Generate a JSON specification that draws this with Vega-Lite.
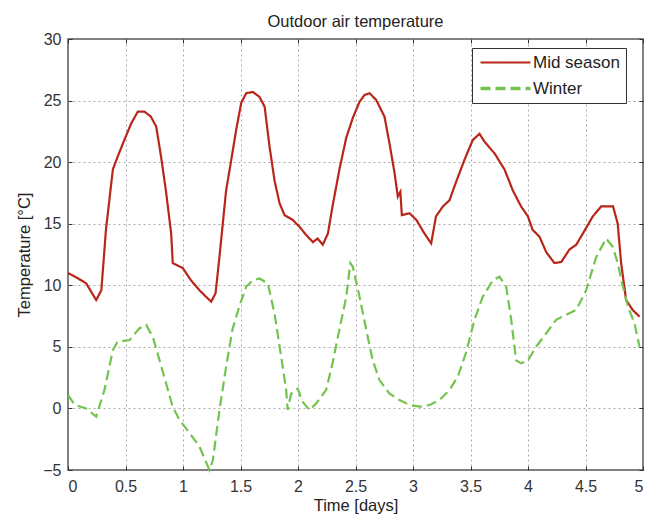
{
"$schema": "https://vega.github.io/schema/vega-lite/v6.json",
"width": 575, "height": 431,
"autosize": "none",
"padding": {"left": 68, "top": 39, "right": 15, "bottom": 47},
"background": "white",
"title": {"text": "Outdoor air temperature", "fontSize": 16.5, "font": "Liberation Sans", "fontWeight": "normal", "color": "#222", "offset": 1},
"config": {
  "view": {"stroke": "#555", "strokeWidth": 1.5},
  "axis": {"labelFont": "Liberation Sans", "titleFont": "Liberation Sans", "labelFontSize": 16, "titleFontSize": 16.5, "titleFontWeight": "normal", "labelColor": "#333", "titleColor": "#222", "domain": false, "tickColor": "#333", "tickSize": -4, "tickWidth": 1, "gridColor": "#888", "gridDash": [2, 3], "gridOpacity": 0.7, "gridWidth": 1},
  "legend": {"labelFont": "Liberation Sans", "labelFontSize": 17, "labelColor": "#222"}
},
"data": {"values": [
{"t":0,"T":11.0,"s":"Mid season"},{"t":0.08,"T":10.6,"s":"Mid season"},{"t":0.158,"T":10.16,"s":"Mid season"},{"t":0.2,"T":9.5,"s":"Mid season"},{"t":0.245,"T":8.8,"s":"Mid season"},{"t":0.29,"T":9.6,"s":"Mid season"},{"t":0.33,"T":14.5,"s":"Mid season"},{"t":0.39,"T":19.4,"s":"Mid season"},{"t":0.43,"T":20.4,"s":"Mid season"},{"t":0.49,"T":21.8,"s":"Mid season"},{"t":0.55,"T":23.15,"s":"Mid season"},{"t":0.607,"T":24.1,"s":"Mid season"},{"t":0.665,"T":24.1,"s":"Mid season"},{"t":0.72,"T":23.7,"s":"Mid season"},{"t":0.767,"T":22.9,"s":"Mid season"},{"t":0.81,"T":20.4,"s":"Mid season"},{"t":0.854,"T":17.5,"s":"Mid season"},{"t":0.897,"T":14.2,"s":"Mid season"},{"t":0.911,"T":11.8,"s":"Mid season"},{"t":0.998,"T":11.4,"s":"Mid season"},{"t":1.07,"T":10.4,"s":"Mid season"},{"t":1.143,"T":9.6,"s":"Mid season"},{"t":1.2,"T":9.07,"s":"Mid season"},{"t":1.245,"T":8.67,"s":"Mid season"},{"t":1.283,"T":9.35,"s":"Mid season"},{"t":1.317,"T":12.3,"s":"Mid season"},{"t":1.375,"T":17.7,"s":"Mid season"},{"t":1.42,"T":20.2,"s":"Mid season"},{"t":1.462,"T":22.6,"s":"Mid season"},{"t":1.506,"T":24.8,"s":"Mid season"},{"t":1.55,"T":25.6,"s":"Mid season"},{"t":1.607,"T":25.7,"s":"Mid season"},{"t":1.665,"T":25.3,"s":"Mid season"},{"t":1.71,"T":24.5,"s":"Mid season"},{"t":1.752,"T":21.3,"s":"Mid season"},{"t":1.796,"T":18.5,"s":"Mid season"},{"t":1.84,"T":16.65,"s":"Mid season"},{"t":1.883,"T":15.7,"s":"Mid season"},{"t":1.955,"T":15.3,"s":"Mid season"},{"t":2.013,"T":14.75,"s":"Mid season"},{"t":2.07,"T":14.1,"s":"Mid season"},{"t":2.13,"T":13.5,"s":"Mid season"},{"t":2.17,"T":13.8,"s":"Mid season"},{"t":2.216,"T":13.3,"s":"Mid season"},{"t":2.26,"T":14.2,"s":"Mid season"},{"t":2.3,"T":16.4,"s":"Mid season"},{"t":2.36,"T":19.4,"s":"Mid season"},{"t":2.42,"T":22.0,"s":"Mid season"},{"t":2.477,"T":23.6,"s":"Mid season"},{"t":2.535,"T":24.9,"s":"Mid season"},{"t":2.578,"T":25.45,"s":"Mid season"},{"t":2.622,"T":25.6,"s":"Mid season"},{"t":2.68,"T":25.05,"s":"Mid season"},{"t":2.752,"T":23.7,"s":"Mid season"},{"t":2.796,"T":21.5,"s":"Mid season"},{"t":2.84,"T":19.1,"s":"Mid season"},{"t":2.868,"T":17.2,"s":"Mid season"},{"t":2.89,"T":17.6,"s":"Mid season"},{"t":2.903,"T":15.7,"s":"Mid season"},{"t":2.97,"T":15.85,"s":"Mid season"},{"t":3.03,"T":15.3,"s":"Mid season"},{"t":3.1,"T":14.2,"s":"Mid season"},{"t":3.158,"T":13.4,"s":"Mid season"},{"t":3.2,"T":15.6,"s":"Mid season"},{"t":3.26,"T":16.4,"s":"Mid season"},{"t":3.317,"T":16.9,"s":"Mid season"},{"t":3.375,"T":18.4,"s":"Mid season"},{"t":3.448,"T":20.2,"s":"Mid season"},{"t":3.52,"T":21.8,"s":"Mid season"},{"t":3.578,"T":22.3,"s":"Mid season"},{"t":3.622,"T":21.66,"s":"Mid season"},{"t":3.71,"T":20.7,"s":"Mid season"},{"t":3.796,"T":19.4,"s":"Mid season"},{"t":3.868,"T":17.7,"s":"Mid season"},{"t":3.94,"T":16.4,"s":"Mid season"},{"t":3.999,"T":15.6,"s":"Mid season"},{"t":4.04,"T":14.5,"s":"Mid season"},{"t":4.1,"T":13.95,"s":"Mid season"},{"t":4.158,"T":12.7,"s":"Mid season"},{"t":4.23,"T":11.8,"s":"Mid season"},{"t":4.29,"T":11.9,"s":"Mid season"},{"t":4.36,"T":12.9,"s":"Mid season"},{"t":4.42,"T":13.3,"s":"Mid season"},{"t":4.477,"T":14.2,"s":"Mid season"},{"t":4.564,"T":15.6,"s":"Mid season"},{"t":4.636,"T":16.4,"s":"Mid season"},{"t":4.74,"T":16.4,"s":"Mid season"},{"t":4.78,"T":15.0,"s":"Mid season"},{"t":4.81,"T":11.8,"s":"Mid season"},{"t":4.853,"T":8.8,"s":"Mid season"},{"t":4.91,"T":8.0,"s":"Mid season"},{"t":4.97,"T":7.45,"s":"Mid season"},
{"t":0,"T":1.1,"s":"Winter"},{"t":0.057,"T":0.3,"s":"Winter"},{"t":0.158,"T":0.0,"s":"Winter"},{"t":0.245,"T":-0.67,"s":"Winter"},{"t":0.317,"T":1.5,"s":"Winter"},{"t":0.39,"T":4.74,"s":"Winter"},{"t":0.43,"T":5.4,"s":"Winter"},{"t":0.535,"T":5.55,"s":"Winter"},{"t":0.62,"T":6.5,"s":"Winter"},{"t":0.68,"T":6.77,"s":"Winter"},{"t":0.738,"T":5.8,"s":"Winter"},{"t":0.796,"T":3.9,"s":"Winter"},{"t":0.854,"T":2.0,"s":"Winter"},{"t":0.91,"T":0.14,"s":"Winter"},{"t":0.97,"T":-0.94,"s":"Winter"},{"t":1.057,"T":-2.0,"s":"Winter"},{"t":1.143,"T":-3.1,"s":"Winter"},{"t":1.23,"T":-5.0,"s":"Winter"},{"t":1.26,"T":-4.2,"s":"Winter"},{"t":1.317,"T":-0.13,"s":"Winter"},{"t":1.375,"T":3.4,"s":"Winter"},{"t":1.43,"T":6.4,"s":"Winter"},{"t":1.49,"T":8.3,"s":"Winter"},{"t":1.55,"T":9.9,"s":"Winter"},{"t":1.607,"T":10.4,"s":"Winter"},{"t":1.665,"T":10.55,"s":"Winter"},{"t":1.737,"T":10.16,"s":"Winter"},{"t":1.796,"T":7.7,"s":"Winter"},{"t":1.854,"T":4.2,"s":"Winter"},{"t":1.897,"T":1.5,"s":"Winter"},{"t":1.91,"T":-0.13,"s":"Winter"},{"t":1.94,"T":1.2,"s":"Winter"},{"t":1.997,"T":1.6,"s":"Winter"},{"t":2.04,"T":0.55,"s":"Winter"},{"t":2.1,"T":-0.13,"s":"Winter"},{"t":2.158,"T":0.4,"s":"Winter"},{"t":2.245,"T":1.5,"s":"Winter"},{"t":2.3,"T":3.66,"s":"Winter"},{"t":2.36,"T":6.4,"s":"Winter"},{"t":2.42,"T":9.07,"s":"Winter"},{"t":2.455,"T":11.8,"s":"Winter"},{"t":2.477,"T":11.5,"s":"Winter"},{"t":2.535,"T":9.07,"s":"Winter"},{"t":2.593,"T":6.4,"s":"Winter"},{"t":2.65,"T":3.9,"s":"Winter"},{"t":2.708,"T":2.3,"s":"Winter"},{"t":2.796,"T":1.2,"s":"Winter"},{"t":2.883,"T":0.68,"s":"Winter"},{"t":2.97,"T":0.28,"s":"Winter"},{"t":3.058,"T":0.14,"s":"Winter"},{"t":3.145,"T":0.28,"s":"Winter"},{"t":3.23,"T":0.68,"s":"Winter"},{"t":3.317,"T":1.5,"s":"Winter"},{"t":3.39,"T":2.6,"s":"Winter"},{"t":3.46,"T":4.5,"s":"Winter"},{"t":3.535,"T":7.2,"s":"Winter"},{"t":3.607,"T":9.07,"s":"Winter"},{"t":3.694,"T":10.4,"s":"Winter"},{"t":3.752,"T":10.7,"s":"Winter"},{"t":3.81,"T":9.9,"s":"Winter"},{"t":3.854,"T":7.2,"s":"Winter"},{"t":3.897,"T":3.9,"s":"Winter"},{"t":3.94,"T":3.66,"s":"Winter"},{"t":3.999,"T":3.9,"s":"Winter"},{"t":4.07,"T":5.0,"s":"Winter"},{"t":4.158,"T":6.1,"s":"Winter"},{"t":4.245,"T":7.2,"s":"Winter"},{"t":4.33,"T":7.6,"s":"Winter"},{"t":4.42,"T":8.0,"s":"Winter"},{"t":4.506,"T":9.6,"s":"Winter"},{"t":4.593,"T":12.3,"s":"Winter"},{"t":4.68,"T":13.8,"s":"Winter"},{"t":4.738,"T":13.1,"s":"Winter"},{"t":4.78,"T":11.8,"s":"Winter"},{"t":4.825,"T":9.9,"s":"Winter"},{"t":4.868,"T":8.3,"s":"Winter"},{"t":4.926,"T":6.9,"s":"Winter"},{"t":4.97,"T":5.0,"s":"Winter"}
]},
"layer": [
  {
    "mark": {"type": "line", "strokeWidth": 2.2},
    "encoding": {
      "x": {"field": "t", "type": "quantitative", "scale": {"domain": [0, 5], "nice": false}, "axis": {"title": "Time [days]", "values": [0,0.5,1,1.5,2,2.5,3,3.5,4,4.5,5], "format": "~g", "labelPadding": 12, "titlePadding": 3, "grid": true}},
      "y": {"field": "T", "type": "quantitative", "scale": {"domain": [-5, 30], "nice": false}, "axis": {"title": "Temperature [°C]", "values": [-5,0,5,10,15,20,25,30], "labelPadding": 11, "titlePadding": 10, "grid": true}},
      "color": {"field": "s", "type": "nominal", "scale": {"domain": ["Mid season", "Winter"], "range": ["#b8261a", "#72c44c"]}, "legend": {"title": null, "orient": "none", "legendX": 404, "legendY": 9, "fillColor": "white", "strokeColor": "#333", "padding": 6, "symbolType": "M-5,0H5", "symbolSize": 100, "symbolOffset": 19, "symbolStrokeWidth": 2.5, "labelOffset": 19, "rowPadding": 8}},
      "strokeDash": {"field": "s", "type": "nominal", "scale": {"domain": ["Mid season", "Winter"], "range": [[1, 0], [10, 5]]}, "legend": {"title": null}},
      "strokeWidth": {"field": "s", "type": "nominal", "scale": {"domain": ["Mid season", "Winter"], "range": [2.2, 3.5]}, "legend": null}
    }
  },
  {
    "mark": {"type": "line", "opacity": 0},
    "encoding": {
      "x": {"field": "t", "type": "quantitative", "axis": {"orient": "top", "title": null, "labels": false, "grid": false, "values": [0,0.5,1,1.5,2,2.5,3,3.5,4,4.5,5]}},
      "y": {"field": "T", "type": "quantitative", "axis": {"orient": "right", "title": null, "labels": false, "grid": false, "values": [-5,0,5,10,15,20,25,30]}},
      "detail": {"field": "s"}
    }
  }
],
"resolve": {"axis": {"x": "independent", "y": "independent"}}
}
